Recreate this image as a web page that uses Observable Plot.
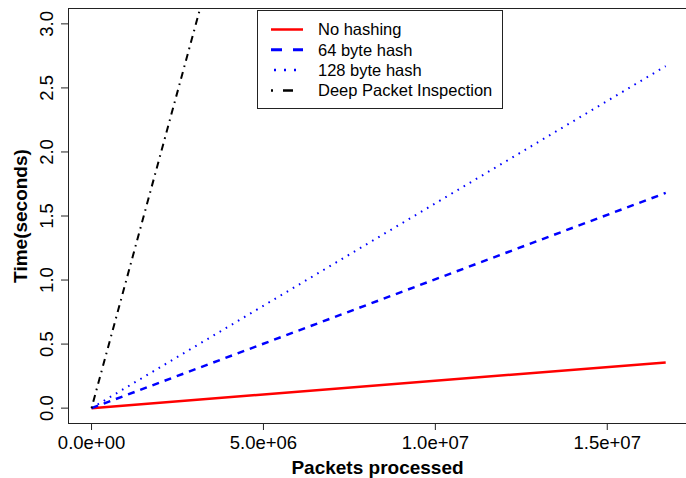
<!DOCTYPE html>
<html>
<head>
<meta charset="utf-8">
<script src="https://cdn.jsdelivr.net/npm/d3@7"></script>
<script src="https://cdn.jsdelivr.net/npm/@observablehq/plot@0.6"></script>
<style>
  html, body { margin: 0; padding: 0; background: #fff; }
  #wrap { position: relative; width: 686px; height: 478px; overflow: hidden; }
  #legend { position: absolute; left: 0; top: 0; }
</style>
</head>
<body>
<div id="wrap"></div>
<script>
// ---- data ----
const seriesNames = ["No hashing", "64 byte hash", "128 byte hash", "Deep Packet Inspection"];
const packets = [0, 16700000];
const noHashing = [0, 0.357];
const hash64 = [0, 1.68];
const hash128 = [0, 2.67];
const deepPacket = [0, 16.5];
const xTicks = [0, 5000000, 10000000, 15000000];
const yTicks = [0, 0.5, 1.0, 1.5, 2.0, 2.5, 3.0];

const seriesValues = [noHashing, hash64, hash128, deepPacket];
const styles = [
  {stroke: "#ff0000", strokeWidth: 2.5, dash: null},
  {stroke: "#0000ff", strokeWidth: 2.5, dash: "7,6"},
  {stroke: "#0000ff", strokeWidth: 2, dash: "1.6,5.5"},
  {stroke: "#000000", strokeWidth: 2, dash: "1.6,5,7,5"}
];
const legendDash = [null, "11,11", "2,8", "2,10,10,10"];
const legendOffset = [0, 0, 7, 0];

const rows = [];
seriesNames.forEach((s, i) => {
  packets.forEach((p, j) => rows.push({series: s, packets: p, time: seriesValues[i][j]}));
});

const xDomain = [-670000, 17305000];
const yDomain = [-0.12, 3.12];

function sci(d) {
  const [m, e] = d.toExponential(1).split("e");
  return m + "e" + e[0] + e.slice(1).padStart(2, "0");
}

const font = "'Liberation Sans', Arial, Helvetica, sans-serif";

const lineMarks = seriesNames.map((s, i) =>
  Plot.line(rows.filter(r => r.series === s), {
    x: "packets", y: "time",
    stroke: styles[i].stroke,
    strokeWidth: styles[i].strokeWidth,
    strokeDasharray: styles[i].dash,
    strokeLinecap: "butt",
    clip: true
  })
);

const chart = Plot.plot({
  width: 686,
  height: 478,
  marginLeft: 68,
  marginRight: 0,
  marginTop: 8,
  marginBottom: 55,
  x: {domain: xDomain},
  y: {domain: yDomain},
  style: {fontFamily: font, background: "white", color: "black", overflow: "visible"},
  marks: [
    ...lineMarks,
    Plot.ruleY(yDomain, {stroke: "#222", strokeWidth: 1}),
    Plot.ruleX([xDomain[0]], {stroke: "#222", strokeWidth: 1}),
    Plot.axisX({ticks: xTicks, tickFormat: sci, tickSize: 7, tickPadding: 5, fontSize: 18.5, label: null, stroke: "#222"}),
    Plot.axisY({ticks: yTicks, tickFormat: d3.format(".1f"), tickSize: 7, tickPadding: 9,
      tickRotate: -90, textAnchor: "middle", lineAnchor: "bottom", fontSize: 18.5, label: null, stroke: "#222"}),
    Plot.text(["Packets processed"], {frameAnchor: "bottom", lineAnchor: "bottom", dy: 50,
      fontSize: 19, fontWeight: "bold", fill: "black"}),
    Plot.text(["Time(seconds)"], {frameAnchor: "left", dx: -48, rotate: -90, textAnchor: "middle",
      lineAnchor: "middle", fontSize: 19, fontWeight: "bold", fill: "black"})
  ]
});

const wrap = document.getElementById("wrap");
wrap.appendChild(chart);

// ---- legend overlay ----
const lg = d3.select(wrap).append("svg")
  .attr("id", "legend")
  .attr("width", 686).attr("height", 478)
  .style("font-family", font);
const L = {x: 257.5, y: 10.5, w: 245, h: 98};
lg.append("rect").attr("x", L.x).attr("y", L.y).attr("width", L.w).attr("height", L.h)
  .attr("fill", "white").attr("stroke", "#222").attr("stroke-width", 1);
seriesNames.forEach((s, i) => {
  const cy = L.y + 19 + i * 20.3;
  lg.append("line")
    .attr("x1", 271).attr("x2", 303).attr("y1", cy).attr("y2", cy)
    .attr("stroke", styles[i].stroke)
    .attr("stroke-width", i === 0 ? 2.5 : (i === 1 ? 3 : 2.5))
    .attr("stroke-dasharray", legendDash[i])
    .attr("stroke-dashoffset", legendOffset[i]);
  lg.append("text")
    .attr("x", 318).attr("y", cy).attr("dy", "0.35em")
    .attr("font-size", 16.5).attr("fill", "black")
    .text(s);
});
</script>
</body>
</html>
